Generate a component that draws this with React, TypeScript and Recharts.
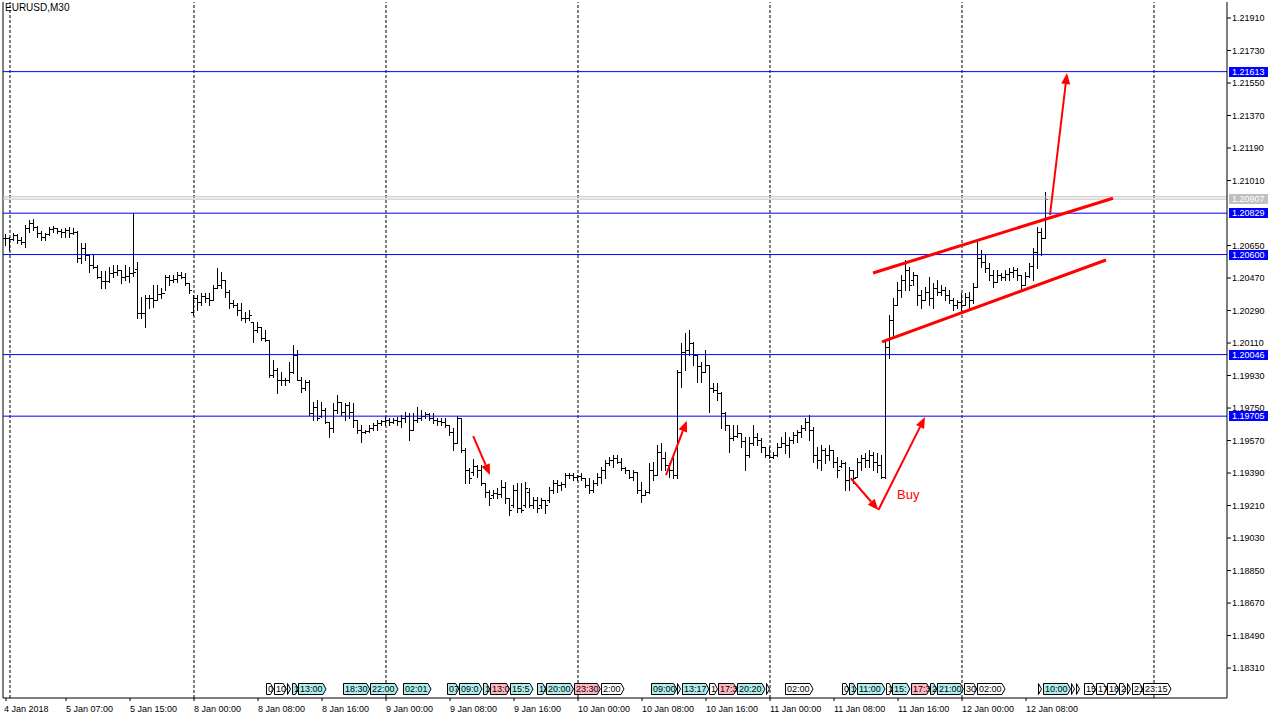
import { ComposedChart, Bar, XAxis, YAxis, ReferenceLine, ReferenceDot } from "recharts";

// EURUSD M30 bars, index 0 = 4 Jan 23:30
const open = [
  1.20691, 1.20691, 1.20686, 1.20708, 1.2068, 1.20669, 1.20747, 1.20774, 1.20753, 1.20719,
  1.20697, 1.20714, 1.20742, 1.20747, 1.2073, 1.20725, 1.20736, 1.20719, 1.20725, 1.20581,
  1.20636, 1.20598, 1.20542, 1.20531, 1.20476, 1.20453, 1.20453, 1.20498, 1.20504, 1.20515,
  1.20476, 1.20481, 1.20498, 1.2052, 1.20276, 1.20276, 1.20359, 1.20359, 1.20348, 1.20382,
  1.20387, 1.20476, 1.20459, 1.20465, 1.20487, 1.20476, 1.20442, 1.20282, 1.20359, 1.20337,
  1.2037, 1.20359, 1.20348, 1.20414, 1.20431, 1.20459, 1.20393, 1.20332, 1.20321, 1.20293,
  1.20248, 1.20248, 1.20227, 1.20182, 1.20199, 1.20138, 1.20127, 1.19933, 1.19961, 1.19905,
  1.19905, 1.19905, 1.1995, 1.20044, 1.19905, 1.19861, 1.19894, 1.19722, 1.19756, 1.19706,
  1.19739, 1.19673, 1.19639, 1.19739, 1.19783, 1.19728, 1.19767, 1.19728, 1.19684, 1.19628,
  1.19617, 1.19622, 1.19639, 1.19656, 1.19667, 1.19678, 1.19684, 1.19673, 1.19684, 1.19678,
  1.19695, 1.19706, 1.19628, 1.19684, 1.19695, 1.19706, 1.19717, 1.19695, 1.19684, 1.19678,
  1.19673, 1.19656, 1.19617, 1.19556, 1.19695, 1.19518, 1.19407, 1.19396, 1.19429, 1.19407,
  1.19335, 1.19285, 1.19269, 1.1928, 1.19274, 1.19313, 1.19252, 1.19213, 1.19296, 1.19196,
  1.19213, 1.19285, 1.19213, 1.19241, 1.19213, 1.19241, 1.19241, 1.19296, 1.19335, 1.19324,
  1.1933, 1.19379, 1.19379, 1.19368, 1.19374, 1.19363, 1.19324, 1.19296, 1.19335, 1.19368,
  1.19407, 1.19446, 1.19462, 1.19473, 1.19451, 1.19418, 1.19407, 1.19368, 1.19396, 1.19296,
  1.19269, 1.19285, 1.19407, 1.19379, 1.19507, 1.19473, 1.19435, 1.19407, 1.19379, 1.1995,
  1.2006, 1.20071, 1.2011, 1.20044, 1.19982, 1.1995, 1.19988, 1.19861, 1.1985, 1.19833,
  1.19722, 1.19656, 1.19584, 1.19595, 1.19611, 1.19567, 1.1949, 1.19556, 1.1959, 1.19573,
  1.19534, 1.1949, 1.19479, 1.1949, 1.19534, 1.19556, 1.19545, 1.19573, 1.19601, 1.19617,
  1.19639, 1.19673, 1.19628, 1.1949, 1.19462, 1.19518, 1.1949, 1.19518, 1.19451, 1.19429,
  1.19446, 1.19352, 1.19407, 1.19368, 1.19451, 1.19473, 1.19462, 1.1949, 1.19451, 1.19435,
  1.19368, 1.20088, 1.20238, 1.20321, 1.20404, 1.20459, 1.20515, 1.20459, 1.20487, 1.20376,
  1.20348, 1.20393, 1.20359, 1.20414, 1.20393, 1.20404, 1.20376, 1.20348, 1.20321, 1.20337,
  1.20321, 1.20365, 1.20348, 1.2042, 1.20581, 1.20559, 1.20525, 1.20487, 1.20448, 1.20487,
  1.20476, 1.20492, 1.20504, 1.20515, 1.20487, 1.20431, 1.20481, 1.20536, 1.20614, 1.20725,
  1.20691,
];
const high = [
  1.20714, 1.20697, 1.20719, 1.20714, 1.20697, 1.20764, 1.20791, 1.20797, 1.20758, 1.2073,
  1.20719, 1.20753, 1.20758, 1.20747, 1.20742, 1.20747, 1.20753, 1.20747, 1.2073, 1.20663,
  1.20663, 1.20598, 1.20598, 1.20542, 1.20509, 1.20509, 1.20531, 1.20542, 1.20542, 1.20515,
  1.20542, 1.20531, 1.2083, 1.20559, 1.20365, 1.20376, 1.20376, 1.20431, 1.20431, 1.20414,
  1.20487, 1.20487, 1.20487, 1.20504, 1.20504, 1.20498, 1.20442, 1.20376, 1.20376, 1.20387,
  1.20387, 1.20387, 1.20431, 1.20525, 1.20504, 1.20459, 1.20404, 1.20348, 1.20332, 1.20332,
  1.20282, 1.20293, 1.20227, 1.20227, 1.20199, 1.20182, 1.20127, 1.20016, 1.19971, 1.1995,
  1.19916, 1.20005, 1.20099, 1.20071, 1.19922, 1.19905, 1.19905, 1.19783, 1.19794, 1.19783,
  1.1975, 1.19673, 1.19778, 1.19822, 1.19783, 1.19778, 1.19783, 1.19778, 1.19684, 1.19656,
  1.19628, 1.19656, 1.19667, 1.19684, 1.19684, 1.197, 1.19695, 1.19695, 1.197, 1.19711,
  1.19728, 1.19722, 1.19722, 1.19756, 1.19739, 1.19728, 1.19722, 1.19722, 1.19695, 1.19695,
  1.19695, 1.19656, 1.19639, 1.19706, 1.19695, 1.19529, 1.19418, 1.19468, 1.19435, 1.19435,
  1.19335, 1.19296, 1.19296, 1.19307, 1.19352, 1.19341, 1.19252, 1.19324, 1.19335, 1.19335,
  1.19341, 1.19307, 1.19258, 1.19258, 1.19252, 1.19241, 1.19313, 1.19352, 1.19352, 1.19341,
  1.1939, 1.1939, 1.1939, 1.19379, 1.1939, 1.19363, 1.19363, 1.19352, 1.1939, 1.19424,
  1.19462, 1.19479, 1.1949, 1.1949, 1.19473, 1.19424, 1.19407, 1.19407, 1.19396, 1.19341,
  1.19296, 1.19446, 1.19451, 1.19545, 1.19556, 1.19507, 1.19446, 1.19473, 1.19961, 1.2011,
  1.20165, 1.20182, 1.20116, 1.20044, 1.20005, 1.20071, 1.19988, 1.19889, 1.19889, 1.19839,
  1.19728, 1.19656, 1.19656, 1.19656, 1.19611, 1.1959, 1.1959, 1.19656, 1.19611, 1.19584,
  1.19534, 1.19534, 1.19507, 1.19556, 1.1959, 1.19617, 1.1959, 1.19617, 1.19628, 1.19656,
  1.19695, 1.19711, 1.19645, 1.19534, 1.19545, 1.19529, 1.19545, 1.19518, 1.19479, 1.19462,
  1.19451, 1.19424, 1.19407, 1.19473, 1.1949, 1.19501, 1.19518, 1.19507, 1.19501, 1.1949,
  1.20127, 1.20265, 1.20359, 1.20448, 1.20487, 1.2057, 1.20531, 1.20504, 1.20487, 1.20404,
  1.2042, 1.20476, 1.20442, 1.20459, 1.20431, 1.2042, 1.20404, 1.20359, 1.20348, 1.20387,
  1.20387, 1.20393, 1.20442, 1.20669, 1.20625, 1.20598, 1.20553, 1.20515, 1.20515, 1.20498,
  1.20515, 1.20525, 1.20531, 1.20525, 1.20487, 1.20504, 1.20553, 1.20636, 1.20753, 1.20747,
  1.20946,
];
const low = [
  1.20653, 1.20625, 1.2068, 1.20663, 1.20658, 1.20642, 1.20725, 1.20736, 1.20697, 1.2068,
  1.2068, 1.20708, 1.20725, 1.20719, 1.20697, 1.20697, 1.20697, 1.20714, 1.20559, 1.20553,
  1.2057, 1.20504, 1.20525, 1.2047, 1.20414, 1.20414, 1.20448, 1.20476, 1.20487, 1.20442,
  1.20459, 1.20448, 1.20481, 1.20248, 1.20248, 1.20199, 1.20304, 1.2031, 1.20348, 1.20359,
  1.20404, 1.20431, 1.20448, 1.20448, 1.2047, 1.20431, 1.20387, 1.20265, 1.20293, 1.20321,
  1.20337, 1.20321, 1.20348, 1.20414, 1.20414, 1.20365, 1.20304, 1.2031, 1.20265, 1.20238,
  1.20227, 1.20238, 1.20116, 1.20171, 1.20127, 1.20121, 1.19922, 1.19922, 1.19833, 1.19878,
  1.19878, 1.19894, 1.19944, 1.19905, 1.19839, 1.1985, 1.19711, 1.19684, 1.19684, 1.197,
  1.19667, 1.1959, 1.19617, 1.19722, 1.19711, 1.19684, 1.19695, 1.19645, 1.19611, 1.19562,
  1.19611, 1.19617, 1.19628, 1.19628, 1.19656, 1.19656, 1.19656, 1.19667, 1.19656, 1.19645,
  1.19673, 1.19573, 1.19628, 1.19673, 1.19684, 1.19695, 1.19684, 1.19667, 1.19656, 1.19656,
  1.19645, 1.19601, 1.19518, 1.19556, 1.19507, 1.19335, 1.19335, 1.19379, 1.19368, 1.19324,
  1.19258, 1.19213, 1.19252, 1.19252, 1.19258, 1.19224, 1.19158, 1.19202, 1.19174, 1.19174,
  1.19202, 1.19202, 1.19196, 1.19174, 1.19196, 1.19168, 1.1923, 1.1928, 1.19285, 1.19296,
  1.19313, 1.19363, 1.19352, 1.19352, 1.19352, 1.19313, 1.1928, 1.19285, 1.19324, 1.19335,
  1.19363, 1.19435, 1.19424, 1.19446, 1.19407, 1.1939, 1.19363, 1.19352, 1.1928, 1.1923,
  1.19269, 1.1928, 1.19352, 1.19379, 1.19407, 1.19407, 1.19368, 1.19363, 1.19363, 1.19867,
  1.19961, 1.20044, 1.19988, 1.19894, 1.19894, 1.1995, 1.19728, 1.19839, 1.19794, 1.19639,
  1.19628, 1.19507, 1.19573, 1.1959, 1.19534, 1.19407, 1.19479, 1.19545, 1.19545, 1.19507,
  1.19479, 1.19473, 1.19473, 1.19484, 1.19534, 1.19501, 1.19479, 1.19556, 1.19562, 1.1959,
  1.19628, 1.19573, 1.19451, 1.19418, 1.19407, 1.19446, 1.19462, 1.19424, 1.19368, 1.19424,
  1.19296, 1.19296, 1.19335, 1.19368, 1.19407, 1.19424, 1.19424, 1.19407, 1.19396, 1.19363,
  1.19363, 1.20027, 1.20144, 1.20321, 1.20365, 1.20404, 1.20404, 1.20431, 1.20321, 1.20304,
  1.20348, 1.20321, 1.20304, 1.20376, 1.20376, 1.20348, 1.20332, 1.20293, 1.20304, 1.20293,
  1.20321, 1.20293, 1.20332, 1.2042, 1.20531, 1.20504, 1.20459, 1.2042, 1.20448, 1.20459,
  1.20459, 1.20459, 1.20476, 1.20459, 1.20404, 1.20431, 1.20476, 1.20459, 1.20525, 1.20598,
  1.20691,
];
const close = [
  1.20691, 1.20686, 1.20708, 1.2068, 1.20669, 1.20747, 1.20774, 1.20753, 1.20719, 1.20697,
  1.20714, 1.20742, 1.20747, 1.2073, 1.20725, 1.20736, 1.20719, 1.20725, 1.20581, 1.20636,
  1.20598, 1.20542, 1.20531, 1.20476, 1.20453, 1.20453, 1.20498, 1.20504, 1.20515, 1.20476,
  1.20481, 1.20498, 1.20504, 1.20276, 1.20276, 1.20359, 1.20359, 1.20348, 1.20382, 1.20387,
  1.20476, 1.20459, 1.20465, 1.20487, 1.20476, 1.20442, 1.20404, 1.20359, 1.20337, 1.2037,
  1.20359, 1.20348, 1.20414, 1.20431, 1.20459, 1.20393, 1.20332, 1.20321, 1.20293, 1.20248,
  1.20248, 1.20265, 1.20182, 1.20199, 1.20138, 1.20127, 1.19933, 1.19961, 1.19905, 1.19905,
  1.19905, 1.1995, 1.20044, 1.19905, 1.19861, 1.19894, 1.19722, 1.19756, 1.19695, 1.19739,
  1.19673, 1.19639, 1.19739, 1.19783, 1.19728, 1.19767, 1.19728, 1.19684, 1.19628, 1.19617,
  1.19622, 1.19639, 1.19656, 1.19667, 1.19678, 1.19684, 1.19673, 1.19684, 1.19678, 1.19695,
  1.19706, 1.19628, 1.19684, 1.19695, 1.19706, 1.19717, 1.19695, 1.19684, 1.19678, 1.19673,
  1.19656, 1.19617, 1.19556, 1.19695, 1.19518, 1.19407, 1.19363, 1.19429, 1.19407, 1.19335,
  1.19285, 1.19252, 1.1928, 1.19274, 1.19313, 1.19252, 1.19185, 1.19296, 1.19196, 1.19185,
  1.19307, 1.19213, 1.19241, 1.19196, 1.19241, 1.19213, 1.19296, 1.19335, 1.19324, 1.1933,
  1.19379, 1.19379, 1.19368, 1.19374, 1.19363, 1.19324, 1.19296, 1.19335, 1.19368, 1.19407,
  1.19446, 1.19462, 1.19473, 1.19451, 1.19418, 1.19407, 1.19368, 1.19396, 1.19296, 1.19269,
  1.19285, 1.19407, 1.19379, 1.19507, 1.19473, 1.19435, 1.19407, 1.19379, 1.1995, 1.2006,
  1.20071, 1.2011, 1.20044, 1.19982, 1.1995, 1.19988, 1.19861, 1.1985, 1.19833, 1.19722,
  1.19656, 1.19584, 1.19595, 1.19611, 1.19567, 1.1949, 1.19556, 1.1959, 1.19573, 1.19534,
  1.1949, 1.19479, 1.1949, 1.19534, 1.19556, 1.19545, 1.19573, 1.19601, 1.19617, 1.19639,
  1.19673, 1.19628, 1.1949, 1.19462, 1.19518, 1.1949, 1.19518, 1.19451, 1.19407, 1.19446,
  1.19352, 1.19407, 1.19363, 1.19451, 1.19473, 1.19462, 1.1949, 1.19451, 1.19435, 1.19368,
  1.20088, 1.20238, 1.20321, 1.20404, 1.20459, 1.20515, 1.20431, 1.20487, 1.20376, 1.20348,
  1.20393, 1.20359, 1.20414, 1.20393, 1.20404, 1.20376, 1.20348, 1.20321, 1.20337, 1.20321,
  1.20365, 1.20348, 1.2042, 1.20581, 1.20559, 1.20525, 1.20487, 1.20448, 1.20487, 1.20476,
  1.20492, 1.20504, 1.20515, 1.20487, 1.20431, 1.20481, 1.20536, 1.20614, 1.20725, 1.20691,
  1.20907,
];

const xTickIdx = [0, 15, 31, 47, 63, 79, 95, 111, 127, 143, 159, 175, 191, 207, 223, 239, 255];
const xTickText = [
  "4 Jan 2018", "5 Jan 07:00", "5 Jan 15:00", "8 Jan 00:00", "8 Jan 08:00", "8 Jan 16:00",
  "9 Jan 00:00", "9 Jan 08:00", "9 Jan 16:00", "10 Jan 00:00", "10 Jan 08:00", "10 Jan 16:00",
  "11 Jan 00:00", "11 Jan 08:00", "11 Jan 16:00", "12 Jan 00:00", "12 Jan 08:00",
];
const dayIdx = [1, 47, 95, 143, 191, 239, 287];
// 1.20830 sits under the 1.20829 level box, so it is not printed
const priceTicks = [
  1.2191, 1.2173, 1.2155, 1.2137, 1.2119, 1.2101, 1.2065, 1.2047, 1.2029, 1.2011,
  1.1993, 1.1975, 1.1957, 1.1939, 1.1921, 1.1903, 1.1885, 1.1867, 1.1849, 1.1831,
];
const levels = [1.21613, 1.20829, 1.206, 1.20046, 1.19705];
const bid = 1.20907;
const ask = 1.2092;

// hand drawn objects: [x1, price1, x2, price2] in bar units
const channel = [
  [216.75, 1.20498, 276.75, 1.20912],
  [219, 1.20116, 275, 1.2057],
];
const arrows = [
  [116.8, 1.19595, 121, 1.19379],
  [165, 1.19379, 170.2, 1.1968],
  [211.2, 1.19361, 218.1, 1.19185],
  [218.1, 1.19185, 229.75, 1.197],
  [261, 1.20819, 265.25, 1.21605],
];

// trade history markers along the bottom
const markerIdx = [
  65, 67, 70.2, 71.4, 73.1, 84.2, 91, 99.2, 110.2, 113.25, 119.2, 121, 126, 132.7, 135, 142,
  148.7, 161.2, 167.75, 168.9, 175.75, 178, 182.8, 190, 194.75, 208.9, 210.75, 212.7, 219.9,
  221.6, 226.2, 231, 232.8, 239.5, 242.8, 258, 259.2, 266.2, 267.5, 269.5, 272.5, 275.3, 278.3,
  280.2, 281.4, 284.2,
];
const markerText = [
  "0", "10", "", "1", "13:00", "18:30", "22:00", "02:01", "07", "09:0", "1", "13:0", "15:5", "18",
  "20:00", "23:30", "2:00", "09:00", "", "13:17", "1", "17:3", "20:20", "", "02:00", "0", "1",
  "11:00", "1", "15:", "17:3", "2", "21:00", "30", "02:00", "", "10:00", "", "", "15", "17", "18",
  "2", "", "21", "23:15",
];
const markerKind = [
  "w", "w", "w", "c", "c", "c", "c", "c", "c", "c", "c", "p", "c", "c", "c", "p", "w", "c", "w",
  "c", "w", "p", "c", "w", "w", "w", "c", "c", "w", "c", "p", "c", "c", "w", "w", "w", "c", "w",
  "w", "w", "w", "w", "w", "w", "w", "w",
];

const X_MIN = -0.75;
const X_MAX = 305.25;
const Y_MIN = 1.181442;
const Y_MAX = 1.219986;
const PLOT_W = 1224;
const PX_PER_BAR = PLOT_W / (X_MAX - X_MIN);
const MARKER_PRICE = 1.18194;
const KIND_FILL: Record<string, string> = { w: "#ffffff", c: "#afeeee", p: "#ffb6c1" };

const bars = open.map((o, i) => ({ i, open: o, high: high[i], low: low[i], close: close[i] }));

function OhlcShape(props: any) {
  const { x, y, width, height, payload } = props;
  if (!payload || payload.high == null || !isFinite(y)) return <g />;
  const top = Math.min(y, y + height);
  const bot = Math.max(y, y + height);
  const span = payload.high - payload.low;
  const toY = (p: number) => (span > 0 ? top + ((payload.high - p) / span) * (bot - top) : top);
  const cx = Math.round(x + width / 2 - 0.5);
  const t = Math.round(top);
  const b = Math.round(bot);
  return (
    <g shapeRendering="crispEdges">
      <rect x={cx} y={t} width={1} height={Math.max(1, b - t + 1)} fill="#000" />
      <rect x={cx - 2} y={Math.round(toY(payload.open))} width={2} height={1} fill="#000" />
      <rect x={cx + 1} y={Math.round(toY(payload.close))} width={2} height={1} fill="#000" />
    </g>
  );
}

function XTick(props: any) {
  const { x, y, payload } = props;
  const k = xTickIdx.indexOf(payload.value);
  return (
    <g>
      <line x1={x} y1={y} x2={x} y2={y + 3} stroke="#000" />
      <text x={k === 0 ? x - 2 : x} y={y + 14} fontSize={9} fill="#000" textAnchor="start">
        {xTickText[k]}
      </text>
    </g>
  );
}

function priceBox(bg: string, value: number) {
  return (props: any) => {
    const vb = props.viewBox;
    const x = vb.x + vb.width + 2;
    const y = vb.y;
    return (
      <g>
        <rect x={x} y={Math.round(y) - 5} width={39} height={10} fill={bg} />
        <text x={x + 3} y={y} dy="0.35em" fontSize={9} fill="#fff">
          {value.toFixed(5)}
        </text>
      </g>
    );
  };
}

function arrowShape(width: number, head: boolean) {
  return (props: any) => {
    const { x1, y1, x2, y2 } = props;
    if (!head) {
      return <line x1={x1} y1={y1} x2={x2} y2={y2} stroke="#ff0000" strokeWidth={width} />;
    }
    const a = Math.atan2(y2 - y1, x2 - x1);
    const L = 11;
    const W = 4.5;
    const bx = x2 - L * Math.cos(a);
    const by = y2 - L * Math.sin(a);
    const pts = `${x2},${y2} ${bx - W * Math.sin(a)},${by + W * Math.cos(a)} ${bx + W * Math.sin(a)},${by - W * Math.cos(a)}`;
    return (
      <g>
        <line x1={x1} y1={y1} x2={bx} y2={by} stroke="#ff0000" strokeWidth={width} />
        <polygon points={pts} fill="#ff0000" />
      </g>
    );
  };
}

function textWidth(s: string) {
  let w = 0;
  for (const ch of s) w += ch === ":" ? 2.5 : 5;
  return w;
}

function markerShape(k: number) {
  return (props: any) => {
    const { cx, cy } = props;
    const natural = markerText[k] ? textWidth(markerText[k]) + 6 : 4;
    const gap = k < markerIdx.length - 1 ? (markerIdx[k + 1] - markerIdx[k]) * PX_PER_BAR : natural;
    const w = Math.max(3, Math.min(natural, gap));
    const l = Math.round(cx) + 0.5;
    const r = l + w - 1;
    const t = Math.round(cy) - 5.5;
    const b = t + 11;
    const tip = Math.min(3, w - 1);
    const pts = `${l},${t} ${r - tip},${t} ${r},${(t + b) / 2} ${r - tip},${b} ${l},${b}`;
    return (
      <g>
        <polygon points={pts} fill={KIND_FILL[markerKind[k]]} stroke="#000" strokeWidth={1} />
        {markerText[k] ? (
          <text x={l + 1.5} y={(t + b) / 2} dy="0.36em" fontSize={9} fill="#000">
            {markerText[k]}
          </text>
        ) : null}
      </g>
    );
  };
}

export default function App() {
  return (
    <div
      style={{
        position: "absolute",
        left: 0,
        top: 0,
        width: 1280,
        height: 720,
        background: "#fff",
        fontFamily: "'Liberation Sans', Arial, sans-serif",
      }}
    >
      <div style={{ position: "absolute", left: 5, top: 2, fontSize: 10, color: "#000", zIndex: 2 }}>EURUSD,M30</div>
      <ComposedChart width={1280} height={720} data={bars} margin={{ top: 2, right: 0, bottom: 0, left: 3 }}>
        <XAxis
          dataKey="i"
          type="number"
          domain={[X_MIN, X_MAX]}
          allowDataOverflow
          ticks={xTickIdx}
          interval={0}
          height={22}
          tickSize={0}
          tickMargin={0}
          tickLine={false}
          tick={<XTick />}
          axisLine={{ stroke: "#000" }}
        />
        <YAxis
          orientation="right"
          type="number"
          width={53}
          domain={[Y_MIN, Y_MAX]}
          allowDataOverflow
          ticks={priceTicks}
          interval={0}
          tickFormatter={(v: number) => v.toFixed(5)}
          tick={{ fontSize: 9, fill: "#000" }}
          tickSize={4}
          tickMargin={1}
          tickLine={{ stroke: "#000" }}
          axisLine={{ stroke: "#000" }}
        />
        <ReferenceLine x={X_MIN} stroke="#000" />
        {dayIdx.map((d) => (
          <ReferenceLine key={`d${d}`} x={d} stroke="#000" strokeDasharray="3 2" />
        ))}
        <ReferenceLine y={ask} stroke="#c0c0c0" />
        <ReferenceLine y={bid} stroke="#c0c0c0" label={priceBox("#c0c0c0", bid)} />
        {levels.map((lv) => (
          <ReferenceLine key={`l${lv}`} y={lv} stroke="#0000ff" label={priceBox("#0000ff", lv)} />
        ))}
        <Bar
          dataKey={(d: any) => [d.low, d.high]}
          barSize={1}
          shape={OhlcShape}
          isAnimationActive={false}
        />
        {channel.map((c, k) => (
          <ReferenceLine
            key={`c${k}`}
            segment={[{ x: c[0], y: c[1] }, { x: c[2], y: c[3] }]}
            shape={arrowShape(3, false)}
          />
        ))}
        {arrows.map((a, k) => (
          <ReferenceLine
            key={`a${k}`}
            segment={[{ x: a[0], y: a[1] }, { x: a[2], y: a[3] }]}
            shape={arrowShape(2, true)}
          />
        ))}
        <ReferenceDot
          x={222.75}
          y={1.19274}
          r={0}
          shape={(p: any) => (
            <text x={p.cx} y={p.cy} dy="0.35em" fontSize={13} fill="#ff0000">
              Buy
            </text>
          )}
        />
        {markerIdx.map((m, k) => (
          <ReferenceDot key={`m${k}`} x={m} y={MARKER_PRICE} r={0} shape={markerShape(k)} />
        ))}
      </ComposedChart>
    </div>
  );
}
